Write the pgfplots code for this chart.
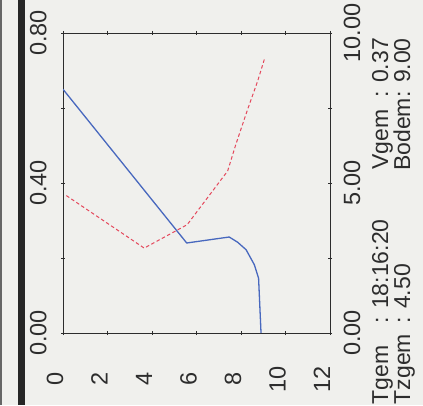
\documentclass[border=0pt]{standalone}
\usepackage{fontspec}
\setmainfont{Liberation Sans}
\usepackage{pgfplots}
\pgfplotsset{compat=1.18}
\definecolor{paper}{RGB}{240,240,237}
\definecolor{bl}{RGB}{72,104,190}
\definecolor{rd}{RGB}{228,72,92}
\definecolor{ink}{RGB}{45,45,45}
\begin{document}
\begin{tikzpicture}[x=1pt,y=1pt]
\useasboundingbox (0,0) rectangle (423,405);
\fill[paper] (0,0) rectangle (423,405);
\fill[black!85] (18,0) rectangle (25,405);
\draw[black!60, line width=1.5pt] (1,0) -- (1,405);
\pgfplotsset{
  geom/.style={
    at={(63pt,72pt)}, anchor=south west,
    scale only axis, width=267pt, height=300pt,
    xmin=0, xmax=12,
    axis line style={ink, line width=0.9pt},
    tick style={ink, line width=0.9pt},
    tick align=center, major tick length=4pt,
    ticklabel style={font=\fontsize{23.5}{28}\selectfont, text=ink, rotate=90, anchor=base, inner sep=0pt},
  }
}
\begin{axis}[geom,
  ymin=0, ymax=0.8,
  xtick={0,2,4,6,8,10,12},
  xticklabels={0,2,4,6,8,10,12},
  ytick={0,0.2,0.4,0.6,0.8},
  yticklabels={0.00,,0.40,,0.80},
  ytick pos=left,
  xticklabel shift=44pt,
  yticklabel shift=14.5pt,
]
\addplot[bl, line width=1.3pt] coordinates {
(0,0.650) (5.56,0.240) (7.47,0.256) (7.85,0.242) (8.23,0.222) (8.60,0.182) (8.79,0.146) (8.90,0.0)
};
\end{axis}
\begin{axis}[geom,
  ymin=0, ymax=10,
  axis y line*=right, hide x axis,
  ytick={0,2.5,5,7.5,10},
  yticklabels={0.00,,5.00,,10.00},
  yticklabel shift=28pt,
]
\addplot[rd, line width=1pt, dash pattern=on 3.5pt off 2.5pt] coordinates {
(0.15,4.58) (3.65,2.83) (5.58,3.61) (7.40,5.40) (7.77,6.29) (8.30,7.46) (8.75,8.40) (9.06,9.15)
};
\end{axis}
\begin{scope}[every node/.style={rotate=90, font=\fontsize{23}{28}\selectfont, text=ink, inner sep=0pt}]
\node[anchor=base west] at (388,0.5) {Tgem};
\node[anchor=base west] at (388,81) {: 18:16:20};
\node[anchor=base west] at (388,235) {Vgem};
\node[anchor=base east] at (388,367) {: 0.37};
\node[anchor=base west] at (410,0.5) {Tzgem};
\node[anchor=base west] at (410,81) {: 4.50};
\node[anchor=base east] at (410,367) {Bodem: 9.00};
\end{scope}
\end{tikzpicture}
\end{document}
